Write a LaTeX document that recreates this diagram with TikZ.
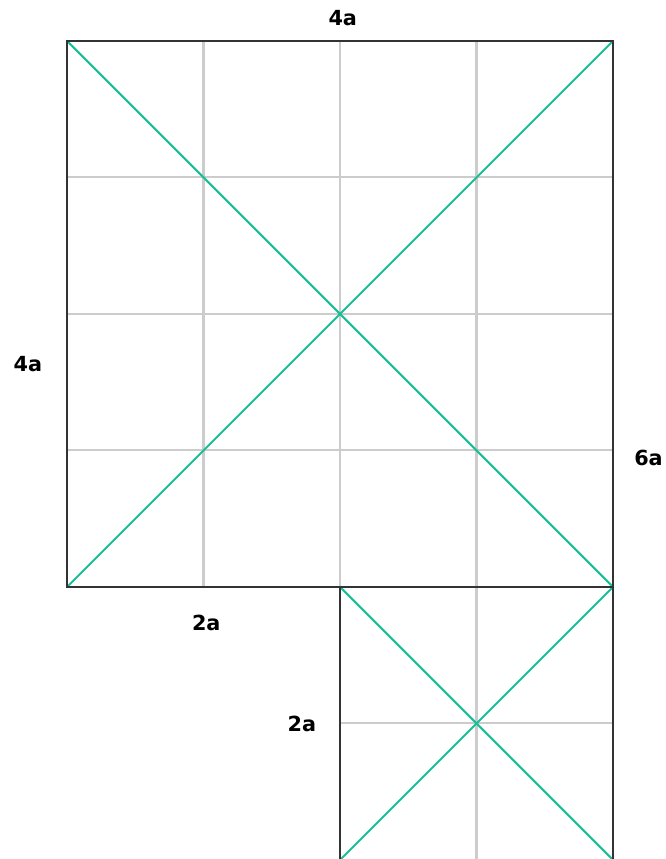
\documentclass[tikz,border=0pt]{standalone}
\usepackage{fontspec}
\setmainfont{DejaVu Sans}
\usetikzlibrary{positioning}
\definecolor{gridgray}{HTML}{CCCCCC}
\definecolor{diaggreen}{HTML}{1ABF98}
\definecolor{edgeblack}{HTML}{333333}
\tikzset{gridline/.style={ % thin grey cell lines
			draw=gridgray,
			line width=1.3pt},
	outline/.style={draw=edgeblack, line width=1.7pt},
	diagonal/.style={draw=diaggreen, line width=1.3pt},
	sidelabel/.style={font=\fontsize{13}{15}\selectfont\bfseries, inner sep=0pt}}

\begin{document}
\begin{tikzpicture}[x=3cm, y=3cm]
			\useasboundingbox (-0.491,-1.993) rectangle (4.388,4.300);
			% corners of the two squares
			\coordinate (BL) at (0,0);
			\coordinate (TL) at (0,4);
			\coordinate (TR) at (4,4);
			\coordinate (BR) at (4,0);
			\coordinate (M) at (2,0);
			\coordinate (SL) at (2,-2);
			\coordinate (SR) at (4,-2);
			
			% grid of cells
			\foreach \i in {1,2,3} {
				\draw [gridline] (\i,0) -- (\i,4);
				\draw [gridline] (0,\i) -- (4,\i);
			}
			\draw [gridline] (3,-2) -- (3,0) (2,-1) -- (4,-1);
			
			% diagonals
			\draw [diagonal] (BL) -- (TR) (TL) -- (BR);
			\draw [diagonal] (M) -- (SR) (SL) -- (BR);
			
			% outline
			\draw [outline] (BR) -- (TR) -- (TL) -- (BL) -- (BR) -- (SR);
			\draw [outline] (M) -- (SL);
			
			\node [sidelabel] (top) at (2.02,4.17) {4a};
			\node [sidelabel] (left) at (-0.286,1.63) {4a};
			\node [sidelabel] (right) at (4.26,0.945) {6a};
			\node [sidelabel] (bottom) at (1.02,-0.264) {2a};
			\node [sidelabel] (small) at (1.72,-1.0) {2a};
		\end{tikzpicture}
\end{document}
